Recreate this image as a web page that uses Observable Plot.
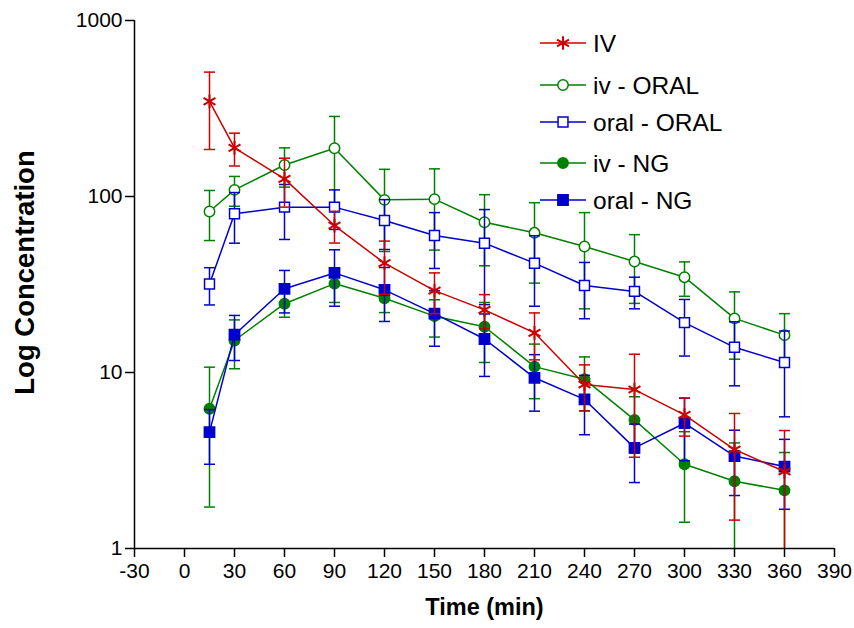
<!DOCTYPE html>
<html>
<head>
<meta charset="utf-8">
<script src="https://cdn.jsdelivr.net/npm/d3@7"></script>
<script src="https://cdn.jsdelivr.net/npm/@observablehq/plot@0.6"></script>
<style>
  html, body { margin: 0; padding: 0; background: #fff; }
  #chart { width: 854px; height: 628px; }
</style>
</head>
<body>
<div id="chart"></div>
<script>
// ---- data ----
const times = [15, 30, 60, 90, 120, 150, 180, 210, 240, 270, 300, 330, 360];

const ivMean = [347, 189, 126, 68.4, 41.8, 29.2, 22.7, 16.8, 8.55, 8.0, 5.75, 3.65, 2.74];
const ivSD   = [162, 40, 39, 14, 14, 7.6, 5, 5, 2.5, 4.7, 1.4, 2.2, 1.94];

const ivOralMean = [82.2, 109, 151, 188, 95.7, 96.6, 71.4, 62.2, 52, 42.7, 34.8, 20.3, 16.3];
const ivOralSD   = [26, 21, 38, 97, 47, 47, 31, 30, 29, 18, 7.7, 8.4, 5.3];

const oralOralMean = [31.8, 79.8, 87, 87, 73, 60, 54.3, 41.8, 31.2, 28.9, 19.2, 13.9, 11.4];
const oralOralSD   = [7.6, 25.5, 30, 22, 23, 21, 30, 18, 11, 5.9, 6.8, 5.5, 5.8];

const ivNGMean = [6.22, 15.2, 24.6, 32, 26.4, 20.9, 18.2, 10.8, 9.16, 5.38, 3.01, 2.41, 2.14];
const ivNGSD   = [4.5, 4.7, 4, 7, 4.5, 5, 6.8, 3.7, 3.1, 1.9, 1.6, 1.57, 1.37];

const oralNGMean = [4.58, 16.4, 29.9, 36.8, 29.5, 21.6, 15.5, 9.33, 7.03, 3.73, 5.15, 3.35, 2.92];
const oralNGSD   = [1.57, 4.7, 8.1, 13, 10, 7.5, 6, 3.3, 2.6, 1.36, 2, 1.35, 1.25];

const seriesNames = ["IV", "iv - ORAL", "oral - ORAL", "iv - NG", "oral - NG"];
const xTicks = [-30, 0, 30, 60, 90, 120, 150, 180, 210, 240, 270, 300, 330, 360, 390];
const yTicks = [1, 10, 100, 1000];
const xTitle = "Time (min)";
const yTitle = "Log Concentration";

// ---- styles ----
const RED = "#cc0000", GREEN = "#008000", BLUE = "#0000cc";
const series = [
  {name: seriesNames[0], mean: ivMean,       sd: ivSD,       color: RED,   symbol: "asterisk", fill: "none",  r: 6.5, sw: 2},
  {name: seriesNames[1], mean: ivOralMean,   sd: ivOralSD,   color: GREEN, symbol: "circle",   fill: "white", r: 5.2, sw: 1.5},
  {name: seriesNames[2], mean: oralOralMean, sd: oralOralSD, color: BLUE,  symbol: "square",   fill: "white", r: 5.6, sw: 1.5},
  {name: seriesNames[3], mean: ivNGMean,     sd: ivNGSD,     color: GREEN, symbol: "circle",   fill: GREEN,   r: 5.2, sw: 1.5},
  {name: seriesNames[4], mean: oralNGMean,   sd: oralNGSD,   color: BLUE,  symbol: "square",   fill: BLUE,    r: 5.8, sw: 1.5}
];

const yMin = yTicks[0];
function rowsOf(s) {
  return times.map((t, i) => {
    const v = s.mean[i], e = s.sd[i];
    const loRaw = v - e;
    return {t, v, hi: v + e, lo: Math.max(loRaw, yMin), loClipped: loRaw < yMin};
  });
}

// horizontal cap symbol for error bars
const capSymbol = {
  draw(ctx, size) {
    const w = Math.sqrt(size / Math.PI);
    ctx.moveTo(-w, 0);
    ctx.lineTo(w, 0);
  }
};

const marks = [];
const drawOrder = [1, 2, 3, 4, 0];
for (const k of drawOrder) {
  const s = series[k];
  const rows = rowsOf(s);
  marks.push(
    Plot.ruleX(rows, {x: "t", y1: "lo", y2: "hi", stroke: s.color, strokeWidth: 1.5}),
    Plot.dot(rows, {x: "t", y: "hi", symbol: capSymbol, r: 5.5, stroke: s.color, strokeWidth: 1.5, fill: "none"}),
    Plot.dot(rows.filter(d => !d.loClipped), {x: "t", y: "lo", symbol: capSymbol, r: 5.5, stroke: s.color, strokeWidth: 1.5, fill: "none"}),
    Plot.line(rows, {x: "t", y: "v", stroke: s.color, strokeWidth: 1.5}),
    Plot.dot(rows, {x: "t", y: "v", symbol: s.symbol, r: s.r, stroke: s.color, strokeWidth: s.sw, fill: s.fill})
  );
}

const chart = Plot.plot({
  width: 854,
  height: 628,
  marginLeft: 134,
  marginRight: 20,
  marginTop: 20,
  marginBottom: 80,
  style: {fontFamily: "Arial, 'Liberation Sans', sans-serif", fontSize: "21px", color: "black", background: "white"},
  x: {domain: [xTicks[0], xTicks[xTicks.length - 1]]},
  y: {type: "log", domain: [yTicks[0], yTicks[yTicks.length - 1]]},
  marks: [
    ...marks,
    Plot.ruleX([xTicks[0]], {stroke: "black", strokeWidth: 1.5}),
    Plot.ruleY([yTicks[0]], {stroke: "black", strokeWidth: 1.5}),
    Plot.axisX({ticks: xTicks, tickSize: 9, tickPadding: 6, tickFormat: d => String(d), label: null, strokeWidth: 1.5}),
    Plot.axisY({ticks: yTicks, tickSize: 9, tickPadding: 3, tickFormat: d => String(d), label: null, strokeWidth: 1.5}),
    Plot.text([xTitle], {text: d => d, frameAnchor: "bottom", dy: 66, fontSize: 23.5, fontWeight: "bold", textAnchor: "middle"}),
    Plot.text([yTitle], {text: d => d, frameAnchor: "left", dx: -109, dy: -12, rotate: -90, fontSize: 27.5, fontWeight: "bold", textAnchor: "middle"})
  ]
});

document.getElementById("chart").appendChild(chart);

// ---- legend (drawn into the same SVG) ----
const svg = d3.select(chart);
const legendRows = [43, 85, 122, 163, 200];
const symbolTypes = {asterisk: d3.symbolAsterisk, circle: d3.symbolCircle, square: d3.symbolSquare};
const lg = svg.append("g").attr("class", "legend");
series.forEach((s, i) => {
  const y = legendRows[i];
  const g = lg.append("g").attr("transform", `translate(0,${y})`);
  g.append("line").attr("x1", 540).attr("x2", 586).attr("y1", 0).attr("y2", 0)
    .attr("stroke", s.color).attr("stroke-width", 1.5);
  g.append("path")
    .attr("transform", "translate(563,0)")
    .attr("d", d3.symbol(symbolTypes[s.symbol], Math.PI * s.r * s.r)())
    .attr("fill", s.fill).attr("stroke", s.color).attr("stroke-width", s.sw);
  g.append("text").attr("x", 593).attr("y", 0).attr("dy", "0.35em")
    .style("font-size", "24.5px").style("text-anchor", "start").attr("fill", "black").text(s.name);
});
</script>
</body>
</html>
